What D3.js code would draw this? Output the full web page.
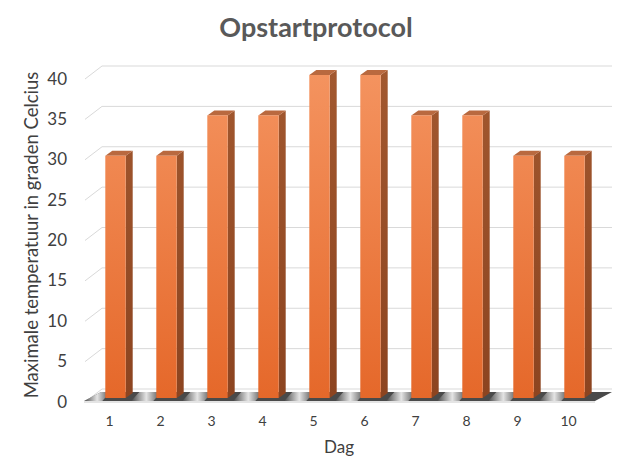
<!DOCTYPE html>
<html>
<head>
<meta charset="utf-8">
<script src="https://cdn.jsdelivr.net/npm/d3@7"></script>
<style>
  body { margin: 0; background: #fff; }
  text { font-family: Lato, "Open Sans", sans-serif; }
</style>
</head>
<body>
<div class="canvas"></div>
<script>
const days = ['1', '2', '3', '4', '5', '6', '7', '8', '9', '10'];
const temps = [30, 30, 35, 35, 40, 40, 35, 35, 30, 30];
const yTicks = [0, 5, 10, 15, 20, 25, 30, 35, 40];

const width = 632;
const height = 474;

// perspective offsets
const wall = { dx: 17, up: 9, down: 4 };
const depth = { dx: 7, dy: -5 };

const svg = d3.select('.canvas')
  .append('svg')
  .attr('width', width)
  .attr('height', height);

const x = d3.scaleBand()
  .domain(days)
  .range([90, 600])
  .paddingInner(0.6)
  .paddingOuter(0.3);

const y = d3.scaleLinear()
  .domain([0, 40])
  .range([398, 75]);

const defs = svg.append('defs');

const grad = (id, stops, attrs) => {
  const g = defs.append('linearGradient').attr('id', id);
  Object.entries(attrs).forEach(([k, v]) => g.attr(k, v));
  stops.forEach(([o, c, op]) => g.append('stop')
    .attr('offset', o).attr('stop-color', c).attr('stop-opacity', op ?? 1));
};

grad('front', [[0, '#f4935f'], [1, '#e5682a']],
  { gradientUnits: 'userSpaceOnUse', x1: 0, y1: y(40), x2: 0, y2: y(0) });
grad('side', [[0, '#a2582f'], [1, '#8c4420']],
  { gradientUnits: 'userSpaceOnUse', x1: 0, y1: y(40), x2: 0, y2: y(0) });
grad('stripe', [[0, '#e4e4e4', 0], [0.5, '#e4e4e4', 1], [1, '#e4e4e4', 0]],
  { x1: 0, y1: 0, x2: 1, y2: 0 });

// gridlines: back wall + short left wall
const grid = svg.append('g')
  .attr('stroke', '#d9d9d9')
  .attr('fill', 'none');

grid.selectAll('path')
  .data(yTicks)
  .join('path')
  .attr('d', d => {
    const fx = 85, bx = fx + wall.dx;
    return `M${fx},${y(d) + wall.down}L${bx},${y(d) - wall.up}L612,${y(d) - wall.up}`;
  });

// y tick labels
svg.append('g')
  .selectAll('text')
  .data(yTicks)
  .join('text')
  .attr('x', 67)
  .attr('y', d => y(d) + 3)
  .attr('text-anchor', 'end')
  .attr('dominant-baseline', 'central')
  .attr('font-size', 17)
  .attr('fill', '#404040')
  .text(d => d);

// floor
const floorBack = 392, floorFront = 401;
const floor = svg.append('g');

floor.append('path')
  .attr('d', `M84,${floorFront}L595,${floorFront}L612,${floorBack}L101,${floorBack}Z`)
  .attr('fill', '#4a4a4a');

floor.selectAll('path.stripe')
  .data(days)
  .join('path')
  .attr('class', 'stripe')
  .attr('d', d => {
    const cx = x(d) - 14;
    return `M${Math.max(84, cx - 11)},${floorFront}L${cx + 11},${floorFront}` +
      `L${cx + 19},${floorBack}L${Math.max(101, cx - 3)},${floorBack}Z`;
  })
  .attr('fill', 'url(#stripe)');

floor.append('path')
  .attr('d', `M84,${floorFront}L595,${floorFront}L595,${floorFront + 2}L84,${floorFront + 2}Z`)
  .attr('fill', '#e4e4e4');

// bars
const bars = svg.append('g')
  .selectAll('g')
  .data(days.map((d, i) => ({ day: d, value: temps[i] })))
  .join('g');

bars.append('path')
  .attr('d', d => {
    const xr = x(d.day) + x.bandwidth();
    return `M${xr},${y(d.value)}L${xr + depth.dx},${y(d.value) + depth.dy}` +
      `L${xr + depth.dx},${y(0) + depth.dy}L${xr},${y(0)}Z`;
  })
  .attr('fill', 'url(#side)');

bars.append('path')
  .attr('d', d => {
    const xl = x(d.day), xr = xl + x.bandwidth(), yt = y(d.value);
    return `M${xl},${yt}L${xl + depth.dx},${yt + depth.dy}` +
      `L${xr + depth.dx},${yt + depth.dy}L${xr},${yt}Z`;
  })
  .attr('fill', '#b9693f');

bars.append('rect')
  .attr('x', d => x(d.day))
  .attr('y', d => y(d.value))
  .attr('width', x.bandwidth())
  .attr('height', d => y(0) - y(d.value))
  .attr('fill', 'url(#front)');

// x tick labels
svg.append('g')
  .selectAll('text')
  .data(days)
  .join('text')
  .attr('x', d => x(d) + x.bandwidth() / 2 - 6)
  .attr('y', 426)
  .attr('text-anchor', 'middle')
  .attr('font-size', 14)
  .attr('fill', '#404040')
  .text(d => d);

// titles
svg.append('text')
  .attr('x', 316)
  .attr('y', 37)
  .attr('text-anchor', 'middle')
  .attr('font-size', 27)
  .attr('font-weight', 'bold')
  .attr('fill', '#595959')
  .text('Opstartprotocol');

svg.append('text')
  .attr('x', 339)
  .attr('y', 453)
  .attr('text-anchor', 'middle')
  .attr('font-size', 17)
  .attr('fill', '#404040')
  .text('Dag');

svg.append('text')
  .attr('transform', 'translate(38,235) rotate(-90)')
  .attr('text-anchor', 'middle')
  .attr('font-size', 18.5)
  .attr('fill', '#404040')
  .text('Maximale temperatuur in graden Celcius');
</script>
</body>
</html>
